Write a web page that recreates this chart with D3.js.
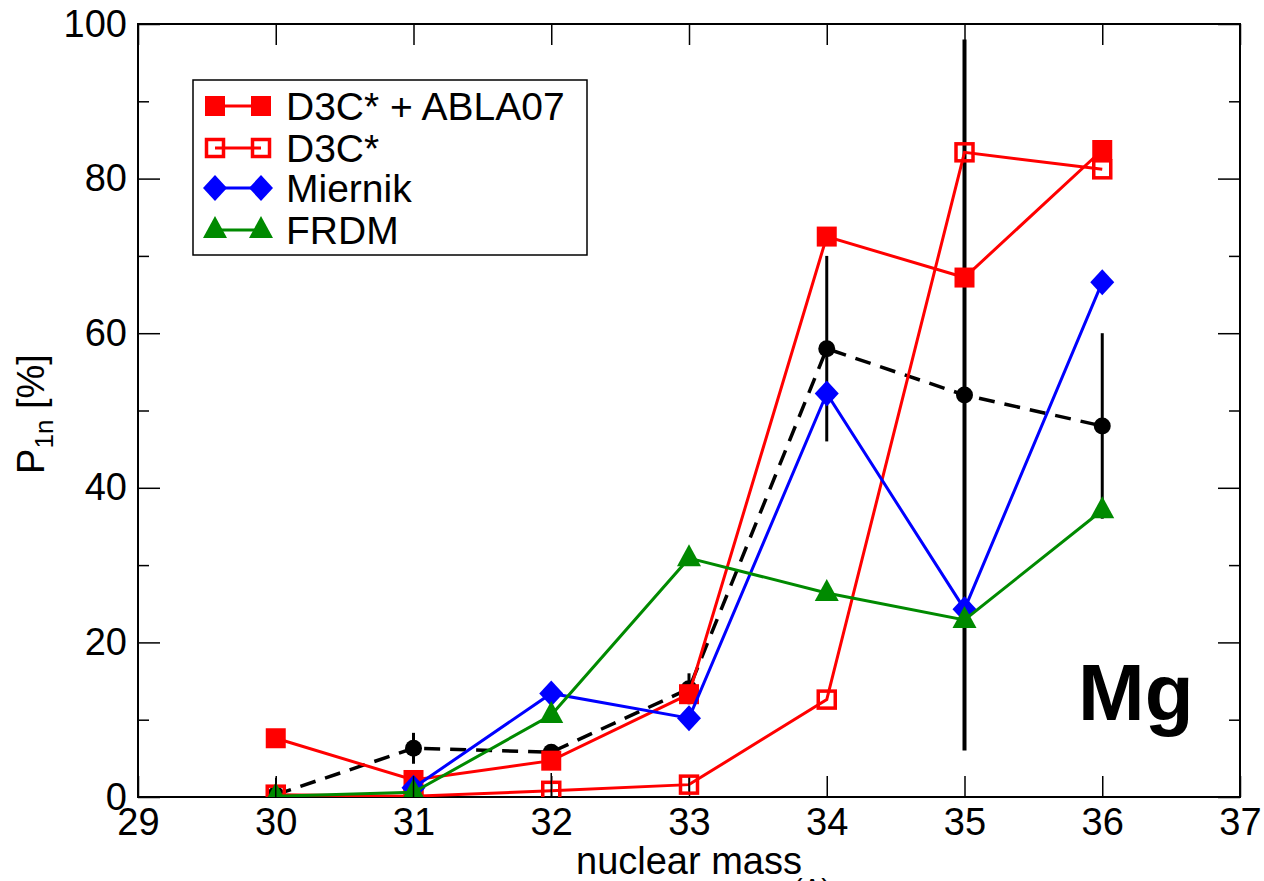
<!DOCTYPE html>
<html>
<head>
<meta charset="utf-8">
<script src="https://cdn.jsdelivr.net/npm/d3@7"></script>
<style>
  body { margin: 0; background: #fff; }
  svg { font-family: "Liberation Sans", Arial, sans-serif; }
</style>
</head>
<body>
<svg id="chart" width="1264" height="881"></svg>
<script>
// nuclear masses
const mass = [30, 31, 32, 33, 34, 35, 36];
const miernikMass = [31, 32, 33, 34, 35, 36];

// P1n values in %
const abla07 = [7.6, 2.2, 4.7, 13.3, 72.5, 67.2, 83.7];
const d3cStar = [0.3, 0.1, 0.8, 1.6, 12.6, 83.4, 81.2];
const d3cErr = [2.2, 2.6, 2.3, 0.9, 0, 0, 0];
const miernik = [1.2, 13.4, 10.2, 52.2, 24.3, 66.6];
const frdm = [0.1, 0.6, 10.6, 30.9, 26.4, 22.9, 37.1];
const expVal = [0.3, 6.3, 5.8, 14.0, 58, 52, 48];
const expErr = [0.5, 2.0, 0.6, 2.0, 12, 46, 12];

const xTicks = [29, 30, 31, 32, 33, 34, 35, 36, 37];
const yTicks = [0, 20, 40, 60, 80, 100];
const yMinor = [10, 30, 50, 70, 90];

const margin = { top: 24, right: 24, bottom: 84, left: 138 };
const width = 1264, height = 881;

const svg = d3.select("#chart");

const x = d3.scaleLinear().domain([29, 37]).range([margin.left, width - margin.right]);
const y = d3.scaleLinear().domain([0, 100]).range([height - margin.bottom, margin.top]);

svg.append("defs").append("clipPath").attr("id", "clip")
  .append("rect")
  .attr("x", x(29)).attr("y", y(100))
  .attr("width", x(37) - x(29)).attr("height", y(0) - y(100));

// axes, ticks pointing inward
const styleAxis = (g, labels) => {
  g.select(".domain").remove();
  g.selectAll(".tick line").attr("stroke", "#000").attr("stroke-width", 1.5);
  g.selectAll("text").attr("font-size", 38).attr("fill", "#000")
    .style("display", labels ? null : "none");
};

svg.append("g")
  .attr("transform", `translate(0,${y(0)})`)
  .call(d3.axisBottom(x).tickValues(xTicks).tickFormat(d3.format("d")).tickSize(-21).tickPadding(11))
  .call(g => styleAxis(g, true));

svg.append("g")
  .attr("transform", `translate(0,${y(100)})`)
  .call(d3.axisTop(x).tickValues(xTicks).tickSize(-21))
  .call(g => styleAxis(g, false));

svg.append("g")
  .attr("transform", `translate(${x(29)},0)`)
  .call(d3.axisLeft(y).tickValues(yTicks).tickFormat(d3.format("d")).tickSize(-22).tickPadding(11))
  .call(g => styleAxis(g, true));

svg.append("g")
  .attr("transform", `translate(${x(29)},0)`)
  .call(d3.axisLeft(y).tickValues(yMinor).tickSize(-11))
  .call(g => styleAxis(g, false));

svg.append("g")
  .attr("transform", `translate(${x(37)},0)`)
  .call(d3.axisRight(y).tickValues(yTicks).tickSize(-22))
  .call(g => styleAxis(g, false));

svg.append("g")
  .attr("transform", `translate(${x(37)},0)`)
  .call(d3.axisRight(y).tickValues(yMinor).tickSize(-11))
  .call(g => styleAxis(g, false));

svg.append("rect")
  .attr("x", x(29)).attr("y", y(100))
  .attr("width", x(37) - x(29)).attr("height", y(0) - y(100))
  .attr("fill", "none").attr("stroke", "#000").attr("stroke-width", 2);

// axis labels
svg.append("text")
  .attr("x", 689).attr("y", 874)
  .attr("text-anchor", "middle").attr("font-size", 38)
  .text("nuclear mass");

svg.append("text")
  .attr("x", 812).attr("y", 898)
  .attr("text-anchor", "middle").attr("font-size", 28)
  .text("(A)");

const yl = svg.append("text")
  .attr("transform", "translate(44,414) rotate(-90)")
  .attr("text-anchor", "middle").attr("font-size", 38);
yl.append("tspan").text("P");
yl.append("tspan").attr("font-size", 26).attr("dy", 9).text("1n");
yl.append("tspan").attr("dy", -9).text(" [%]");

// marker shapes
const drawMarker = (g, type, cx, cy, color) => {
  if (type === "square") {
    g.append("rect").attr("x", cx - 10).attr("y", cy - 10).attr("width", 20).attr("height", 20)
      .attr("fill", color);
  } else if (type === "open") {
    g.append("rect").attr("x", cx - 8.5).attr("y", cy - 8.5).attr("width", 17).attr("height", 17)
      .attr("fill", "none").attr("stroke", color).attr("stroke-width", 3.5);
  } else if (type === "diamond") {
    g.append("path").attr("d", `M${cx},${cy - 13}L${cx + 12},${cy}L${cx},${cy + 13}L${cx - 12},${cy}Z`)
      .attr("fill", color);
  } else if (type === "triangle") {
    g.append("path").attr("d", `M${cx},${cy - 14}L${cx + 12},${cy + 8}L${cx - 12},${cy + 8}Z`)
      .attr("fill", color);
  } else if (type === "circle") {
    g.append("circle").attr("cx", cx).attr("cy", cy).attr("r", 8.5).attr("fill", color);
  }
};

const line = d3.line().x(d => x(d[0])).y(d => y(d[1]));
const plot = svg.append("g").attr("clip-path", "url(#clip)");

// experimental data
const expPts = mass.map((m, i) => [m, expVal[i]]);
plot.append("path").datum(expPts).attr("d", line)
  .attr("fill", "none").attr("stroke", "#000").attr("stroke-width", 3.5)
  .attr("stroke-dasharray", "16,10");
plot.selectAll(".err").data(mass).join("line")
  .attr("x1", d => x(d)).attr("x2", d => x(d))
  .attr("y1", (d, i) => y(expVal[i] - expErr[i]))
  .attr("y2", (d, i) => y(expVal[i] + expErr[i]))
  .attr("stroke", "#000").attr("stroke-width", (d, i) => expErr[i] > 20 ? 4 : 3);
expPts.forEach(p => drawMarker(plot, "circle", x(p[0]), y(p[1]), "#000"));

const series = [
  { name: "D3C* + ABLA07", xs: mass, ys: abla07, color: "#ff0000", marker: "square" },
  { name: "D3C*", xs: mass, ys: d3cStar, color: "#ff0000", marker: "open" },
  { name: "Miernik", xs: miernikMass, ys: miernik, color: "#0000ff", marker: "diamond" },
  { name: "FRDM", xs: mass, ys: frdm, color: "#008a00", marker: "triangle" }
];

series.forEach(s => {
  const pts = s.xs.map((m, i) => [m, s.ys[i]]);
  plot.append("path").datum(pts).attr("d", line)
    .attr("fill", "none").attr("stroke", s.color).attr("stroke-width", 3);
  pts.forEach(p => drawMarker(plot, s.marker, x(p[0]), y(p[1]), s.color));
});

// thin bars on the D3C* points
plot.selectAll(".thin").data(mass.filter((m, i) => d3cErr[i] > 0)).join("line")
  .attr("x1", d => x(d)).attr("x2", d => x(d))
  .attr("y1", d => y(d3cStar[mass.indexOf(d)] - d3cErr[mass.indexOf(d)]))
  .attr("y2", d => y(d3cStar[mass.indexOf(d)] + d3cErr[mass.indexOf(d)]))
  .attr("stroke", "#000").attr("stroke-width", 1.5);

// element label
svg.append("text")
  .attr("x", 1078).attr("y", 720)
  .attr("font-size", 80).attr("font-weight", "bold")
  .text("Mg");

// legend
const legend = svg.append("g");
legend.append("rect")
  .attr("x", 193).attr("y", 80).attr("width", 394).attr("height", 175)
  .attr("fill", "#fff").attr("stroke", "#000").attr("stroke-width", 1.5);
const rowY = [106, 148, 188, 230];
series.forEach((s, i) => {
  const cy = rowY[i];
  legend.append("line").attr("x1", 215).attr("x2", 261).attr("y1", cy).attr("y2", cy)
    .attr("stroke", s.color).attr("stroke-width", 3);
  drawMarker(legend, s.marker, 215, cy, s.color);
  drawMarker(legend, s.marker, 261, cy, s.color);
  legend.append("text").attr("x", 286).attr("y", cy + 14)
    .attr("font-size", 39).text(s.name);
});
</script>
</body>
</html>
